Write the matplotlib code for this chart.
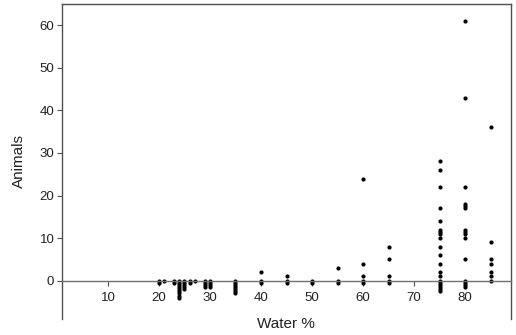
import matplotlib
matplotlib.use("Agg")
import matplotlib.pyplot as plt

plt.rcParams['font.family'] = ['Liberation Sans', 'DejaVu Sans']

# Water % (x) and Animals (y) values
water_levels = [20, 21, 23, 24, 25, 26, 27, 29, 30, 35, 40, 45, 50, 55, 60, 65, 75, 80, 85]
animals = [
    [0, -0.5],                                   # 20
    [0],                                         # 21
    [0, -0.5],                                   # 23
    [0, -0.5, -1, -1.5, -2, -2.5, -3, -3.5, -4], # 24
    [0, -0.5, -1, -1.5, -2],                     # 25
    [0, -0.5],                                   # 26
    [0],                                         # 27
    [0, -0.5, -1, -1.5],                         # 29
    [0, -0.5, -1, -1.5],                         # 30
    [0, -0.5, -1, -1.5, -2, -2.5, -3],           # 35
    [2, 0, -0.5],                                # 40
    [1, 0, -0.5],                                # 45
    [0, -0.5],                                   # 50
    [3, 0, -0.5],                                # 55
    [24, 4, 1, 0, -0.5],                         # 60
    [8, 5, 1, 0, -0.5],                          # 65
    [28, 26, 22, 17, 14, 12, 11.5, 11, 10, 8, 6, 4, 2, 1,
     0, -0.5, -1, -1.5, -2, -2.5],               # 75
    [61, 43, 22, 18, 17.5, 17, 12, 11.5, 11, 10, 5, 0, -0.5, -1, -1.5],  # 80
    [36, 9, 5, 4, 2, 1, 0],                      # 85
]
x_ticks = [10, 20, 30, 40, 50, 60, 70, 80]
y_ticks = [0, 10, 20, 30, 40, 50, 60]

xs, ys = [], []
for w, vals in zip(water_levels, animals):
    for v in vals:
        xs.append(w)
        ys.append(v)

fig = plt.figure(figsize=(5.16, 3.35), dpi=100)
ax = fig.add_axes([62/516, 1 - 319/335, (511 - 62)/516, (319 - 4)/335])

ax.plot(xs, ys, 'o', color='black', markersize=3.0, markeredgewidth=0)

ax.set_xlim(1, 89)
ax.set_ylim(-9, 65)

spine_col = '#505050'
for s in ['left', 'right', 'top', 'bottom']:
    ax.spines[s].set_color(spine_col)
    ax.spines[s].set_linewidth(1.0)
ax.spines['bottom'].set_position(('data', 0))
ax.spines['bottom'].set_color('#707070')

ax.set_xticks(x_ticks)
ax.set_yticks(y_ticks)
ax.tick_params(axis='both', direction='out', length=3.5, width=0.8,
               colors=spine_col, labelcolor='#222222', labelsize=9.5)
ax.tick_params(axis='x', pad=5)
ax.tick_params(axis='y', pad=2)

ax.set_ylabel('Animals', fontsize=11, color='#222222', labelpad=10)
fig.text(286/516, 1 - 324/335, 'Water %', ha='center', va='center',
         fontsize=11, color='#222222')

fig.savefig('out.png', dpi=100, facecolor='white')
